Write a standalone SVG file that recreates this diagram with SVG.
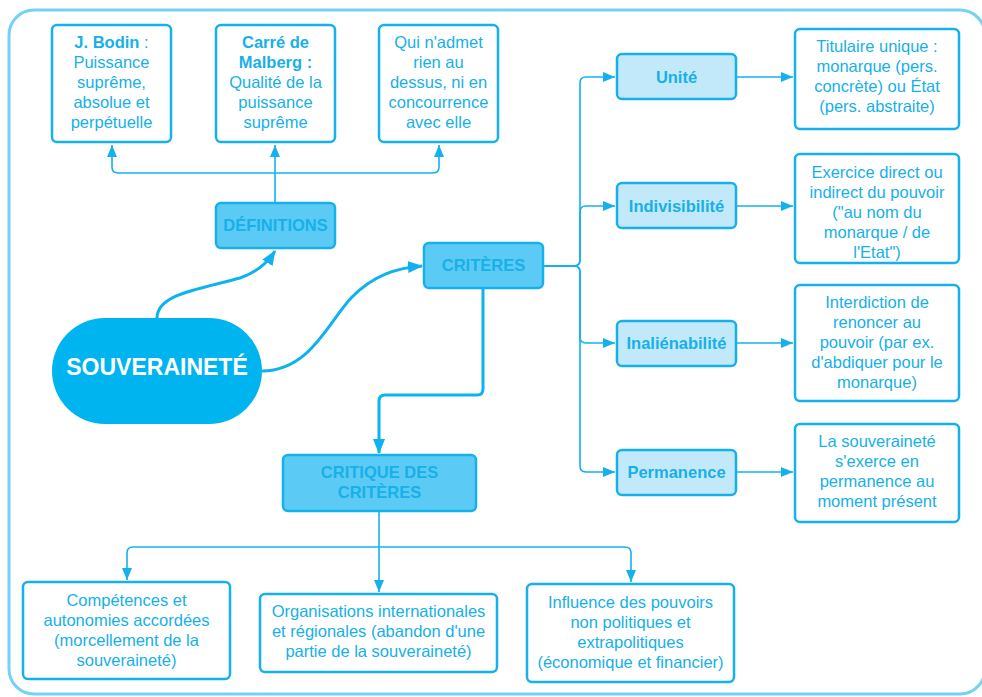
<svg xmlns="http://www.w3.org/2000/svg" width="982" height="697" viewBox="0 0 982 697">
<defs>
<style>
.frame{fill:#fff;stroke:#74d2f6;stroke-width:3}
.box{fill:#fff;stroke:#14b1ec;stroke-width:2.5}
.dark{fill:#5bcbf6;stroke:#14b1ec;stroke-width:2.5}
.light{fill:#c2e9fa;stroke:#14b1ec;stroke-width:2.5}
.main{fill:#00b4f0}
text{font-family:"Liberation Sans",Arial,sans-serif;font-size:16.5px;fill:#17b0e8;text-anchor:middle}
.b{font-weight:bold}
.big{font-size:23px;font-weight:bold;fill:#fff}
.thin{fill:none;stroke:#14b1ec;stroke-width:1.6}
.thick{fill:none;stroke:#0db2ee;stroke-width:3}
</style>
<marker id="a" markerUnits="userSpaceOnUse" markerWidth="12" markerHeight="10" refX="12" refY="5" orient="auto"><path d="M0,0 L12,5 L0,10 z" fill="#14b1ec"/></marker>
<marker id="A" markerUnits="userSpaceOnUse" markerWidth="15" markerHeight="12" refX="14" refY="6" orient="auto"><path d="M0,0 L15,6 L0,12 z" fill="#0db2ee"/></marker>
</defs>
<rect class="frame" x="9" y="10" width="976" height="684" rx="25"/>

<g id="connectors">
<path class="thin" d="M275,203 V145" marker-end="url(#a)"/>
<path class="thin" d="M275,173 H118 Q112,173 112,167 V145" marker-end="url(#a)"/>
<path class="thin" d="M275,173 H433 Q439,173 439,167 V145" marker-end="url(#a)"/>
<path class="thick" d="M157,318 C157,294 200,289 240,278 C255,273 266,265 275,251" marker-end="url(#A)"/>
<path class="thick" d="M262,371 C310,371 328,322 352,297 C373,276 395,268 422,266" marker-end="url(#A)"/>
<path class="thin" d="M543,266 H574 Q580,266 580,260 V83 Q580,77 586,77 H615" marker-end="url(#a)"/>
<path class="thin" d="M543,266 H574 Q580,266 580,260 V212 Q580,206 586,206 H615" marker-end="url(#a)"/>
<path class="thin" d="M543,266 H574 Q580,266 580,272 V337 Q580,343 586,343 H615" marker-end="url(#a)"/>
<path class="thin" d="M543,266 H574 Q580,266 580,272 V466 Q580,472 586,472 H615" marker-end="url(#a)"/>
<path class="thin" d="M736,77 H793" marker-end="url(#a)"/>
<path class="thin" d="M736,206 H793" marker-end="url(#a)"/>
<path class="thin" d="M736,343 H793" marker-end="url(#a)"/>
<path class="thin" d="M736,472 H793" marker-end="url(#a)"/>
<path class="thick" d="M483,288 V389 Q483,395 477,395 H385 Q379,395 379,401 V453" marker-end="url(#A)"/>
<path class="thin" d="M379,511 V592" marker-end="url(#a)"/>
<path class="thin" d="M379,547 H133 Q127,547 127,553 V580" marker-end="url(#a)"/>
<path class="thin" d="M379,547 H625 Q631,547 631,553 V582" marker-end="url(#a)"/>
</g>

<g id="bodin">
<rect class="box" x="52" y="25" width="119" height="117" rx="5"/>
<text x="111.5" y="48"><tspan class="b">J. Bodin</tspan> :</text>
<text x="111.5" y="68">Puissance</text>
<text x="111.5" y="88">suprême,</text>
<text x="111.5" y="108">absolue et</text>
<text x="111.5" y="128">perpétuelle</text>
</g>
<g id="malberg">
<rect class="box" x="216" y="25" width="119" height="117" rx="5"/>
<text x="275.5" y="48" class="b">Carré de</text>
<text x="275.5" y="68" class="b">Malberg :</text>
<text x="275.5" y="88">Qualité de la</text>
<text x="275.5" y="108">puissance</text>
<text x="275.5" y="128">suprême</text>
</g>
<g id="admet">
<rect class="box" x="379" y="25" width="119" height="117" rx="5"/>
<text x="438.5" y="48">Qui n'admet</text>
<text x="438.5" y="68">rien au</text>
<text x="438.5" y="88">dessus, ni en</text>
<text x="438.5" y="108">concourrence</text>
<text x="438.5" y="128">avec elle</text>
</g>
<g id="definitions">
<rect class="dark" x="216" y="203" width="119" height="45" rx="5"/>
<text x="275.5" y="231" class="b">DÉFINITIONS</text>
</g>
<g id="criteres">
<rect class="dark" x="424" y="243" width="119" height="45" rx="5"/>
<text x="483.5" y="271" class="b">CRITÈRES</text>
</g>
<g id="souverainete">
<rect class="main" x="52" y="318" width="210" height="106" rx="53"/>
<text x="157" y="375" class="big">SOUVERAINETÉ</text>
</g>
<g id="unite">
<rect class="light" x="617" y="54" width="119" height="45" rx="5"/>
<text x="676.5" y="83" class="b">Unité</text>
</g>
<g id="indivisibilite">
<rect class="light" x="617" y="183" width="119" height="45" rx="5"/>
<text x="676.5" y="212" class="b">Indivisibilité</text>
</g>
<g id="inalienabilite">
<rect class="light" x="617" y="321" width="119" height="45" rx="5"/>
<text x="676.5" y="349" class="b">Inaliénabilité</text>
</g>
<g id="permanence">
<rect class="light" x="617" y="450" width="119" height="45" rx="5"/>
<text x="676.5" y="478" class="b">Permanence</text>
</g>
<g id="titulaire">
<rect class="box" x="795" y="29" width="164" height="100" rx="5"/>
<text x="877" y="52">Titulaire unique :</text>
<text x="877" y="72">monarque (pers.</text>
<text x="877" y="92">concrète) ou État</text>
<text x="877" y="112">(pers. abstraite)</text>
</g>
<g id="exercice">
<rect class="box" x="795" y="154" width="164" height="109" rx="5"/>
<text x="877" y="178">Exercice direct ou</text>
<text x="877" y="198">indirect du pouvoir</text>
<text x="877" y="218">("au nom du</text>
<text x="877" y="238">monarque / de</text>
<text x="877" y="258">l'Etat")</text>
</g>
<g id="interdiction">
<rect class="box" x="795" y="285" width="164" height="116" rx="5"/>
<text x="877" y="308">Interdiction de</text>
<text x="877" y="328">renoncer au</text>
<text x="877" y="348">pouvoir (par ex.</text>
<text x="877" y="368">d'abdiquer pour le</text>
<text x="877" y="388">monarque)</text>
</g>
<g id="permanent">
<rect class="box" x="795" y="424" width="164" height="98" rx="5"/>
<text x="877" y="447">La souveraineté</text>
<text x="877" y="467">s'exerce en</text>
<text x="877" y="487">permanence au</text>
<text x="877" y="507">moment présent</text>
</g>
<g id="critique">
<rect class="dark" x="283" y="455" width="193" height="56" rx="5"/>
<text x="379.5" y="478" class="b">CRITIQUE DES</text>
<text x="379.5" y="498" class="b">CRITÈRES</text>
</g>
<g id="competences">
<rect class="box" x="23" y="582" width="207" height="97" rx="5"/>
<text x="126.5" y="606">Compétences et</text>
<text x="126.5" y="626">autonomies accordées</text>
<text x="126.5" y="646">(morcellement de la</text>
<text x="126.5" y="666">souveraineté)</text>
</g>
<g id="organisations">
<rect class="box" x="260" y="594" width="237" height="78" rx="5"/>
<text x="378.5" y="617">Organisations internationales</text>
<text x="378.5" y="637">et régionales (abandon d'une</text>
<text x="378.5" y="657">partie de la souveraineté)</text>
</g>
<g id="influence">
<rect class="box" x="527" y="584" width="207" height="98" rx="5"/>
<text x="630.5" y="608">Influence des pouvoirs</text>
<text x="630.5" y="628">non politiques et</text>
<text x="630.5" y="648">extrapolitiques</text>
<text x="630.5" y="668">(économique et financier)</text>
</g>
</svg>
